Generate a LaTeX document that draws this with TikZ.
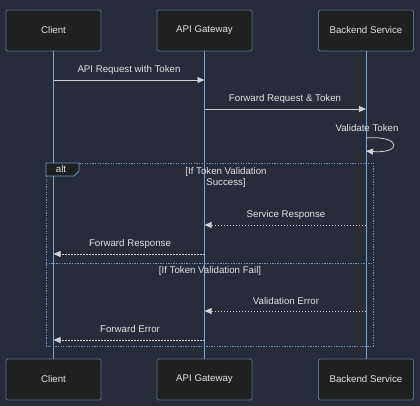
\documentclass[tikz,border=0pt]{standalone}
\usepackage{fontspec}
\setmainfont{Liberation Sans}
\usetikzlibrary{arrows.meta}
\definecolor{bgc}{HTML}{282C3A}
\definecolor{actfill}{HTML}{1F2020}
\definecolor{actborder}{HTML}{5A708E}
\definecolor{lifec}{HTML}{7BA4CF}
\definecolor{altc}{HTML}{6E96C6}
\definecolor{txtc}{HTML}{E2E2E2}
\definecolor{arrc}{HTML}{D2D2D2}
\tikzset{
  actor/.style={draw=actborder, fill=actfill, rounded corners=1.5pt, line width=0.8pt,
    minimum width=95pt, minimum height=41pt, inner sep=0pt, text=txtc, font=\fontsize{9.7}{11}\selectfont},
  life/.style={draw=lifec, line width=1pt},
  msg/.style={draw=arrc, line width=0.8pt, -{Triangle[length=7pt,width=6pt]}},
  reply/.style={msg, dash pattern=on 1.5pt off 1.5pt},
  lbl/.style={text=txtc, font=\fontsize{9.7}{11}\selectfont, inner sep=0pt},
  altline/.style={draw=altc, line width=0.8pt, dash pattern=on 1.3pt off 1.3pt},
}
\begin{document}
\begin{tikzpicture}[x=1pt,y=-1pt]
\fill[bgc] (0,0) rectangle (420,406);
\useasboundingbox (0,0) rectangle (420,406);

% actors
\node[actor] (ct) at (53.5,30.5) {Client};
\node[actor] (gt) at (204.5,30.5) {API Gateway};
\node[actor] (bt) at (366,30.5) {Backend Service};
\node[actor] (cb) at (53.5,379.5) {Client};
\node[actor] (gb) at (204.5,379.5) {API Gateway};
\node[actor] (bb) at (366,379.5) {Backend Service};

% lifelines
\draw[life] (ct.south) -- (cb.north);
\draw[life] (gt.south) -- (gb.north);
\draw[life] (bt.south) -- (bb.north);

% alt frame
\draw[altline] (46,163) rectangle (373,346);
\draw[altline] (46,263) -- (373,263);
\draw[draw=altc, fill=actfill, line width=0.8pt] (46,163) -- (79,163) -- (79,171) -- (74,176) -- (46,176) -- cycle;
\node[lbl] (altl) at (61,169.5) {alt};
\node[lbl, align=center] (cond1) at (226,177.5) {[If Token Validation\\Success]};
\node[lbl] (cond2) at (210,271) {[If Token Validation Fail]};

% message points
\coordinate (c80) at (53.5,80);
\coordinate (g80) at (204.5,80);
\coordinate (g109) at (204.5,109);
\coordinate (b109) at (366,109);
\coordinate (b138) at (366,138);
\coordinate (b151) at (366,151);
\coordinate (b225) at (366,225);
\coordinate (g225) at (204.5,225);
\coordinate (g254) at (204.5,254);
\coordinate (c254) at (53.5,254);
\coordinate (b311) at (366,311);
\coordinate (g311) at (204.5,311);
\coordinate (g340) at (204.5,340);
\coordinate (c340) at (53.5,340);

\draw[msg] (c80) -- (g80);
\node[lbl] (m1) at (129,70) {API Request with Token};
\draw[msg] (g109) -- (b109);
\node[lbl] (m2) at (285,99) {Forward Request \& Token};
\draw[msg] (b138) .. controls (402,135) and (402,154) .. (b151);
\node[lbl] (m3) at (367,128) {Validate Token};
\draw[reply] (b225) -- (g225);
\node[lbl] (m4) at (286,214.5) {Service Response};
\draw[reply] (g254) -- (c254);
\node[lbl] (m5) at (130,243.5) {Forward Response};
\draw[reply] (b311) -- (g311);
\node[lbl] (m6) at (286,301) {Validation Error};
\draw[reply] (g340) -- (c340);
\node[lbl] (m7) at (130,329) {Forward Error};
\end{tikzpicture}
\end{document}
